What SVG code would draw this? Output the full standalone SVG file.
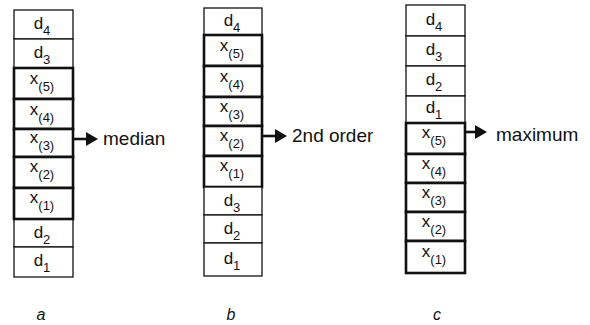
<svg xmlns="http://www.w3.org/2000/svg" width="590" height="325" viewBox="0 0 590 325">
<defs>
<style>
.thin{fill:#fff;stroke:#111;stroke-width:1.3}
.thick{fill:#fff;stroke:#111;stroke-width:2.6}
text{font-family:"Liberation Sans",Arial,sans-serif;fill:#111}
.c{font-size:17px;text-anchor:middle}
.s{font-size:13px}
.lbl{font-size:19px}
.cap{font-size:16px;font-style:italic;text-anchor:middle}
.conn{stroke:#111;stroke-width:2.6;fill:none}
</style>
<marker id="ah" viewBox="0 0 12 14" refX="1" refY="7" markerWidth="12" markerHeight="14" markerUnits="userSpaceOnUse" orient="auto">
<path d="M0,0 L12,7 L0,14 Z" fill="#111"/>
</marker>
</defs>
<rect width="590" height="325" fill="#fff"/>

<!-- Column a -->
<g id="a-d4"><rect class="thin" x="14" y="10" width="59" height="29"/><text class="c" x="42" y="29">d<tspan class="s" dy="6">4</tspan></text></g>
<g id="a-d3"><rect class="thin" x="14" y="39" width="59" height="29"/><text class="c" x="42" y="58">d<tspan class="s" dy="6">3</tspan></text></g>
<g id="a-d2"><rect class="thin" x="14" y="219" width="59" height="28"/><text class="c" x="42" y="238">d<tspan class="s" dy="6">2</tspan></text></g>
<g id="a-d1"><rect class="thin" x="14" y="247" width="59" height="30"/><text class="c" x="42" y="266">d<tspan class="s" dy="6">1</tspan></text></g>
<g id="a-x5"><rect class="thick" x="14" y="68" width="59" height="31"/><text class="c" x="42" y="84">x<tspan class="s" dy="7">(5)</tspan></text></g>
<g id="a-x4"><rect class="thick" x="14" y="99" width="59" height="30"/><text class="c" x="42" y="115">x<tspan class="s" dy="7">(4)</tspan></text></g>
<g id="a-x3"><rect class="thick" x="14" y="129" width="59" height="28"/><text class="c" x="42" y="143">x<tspan class="s" dy="7">(3)</tspan></text></g>
<g id="a-x2"><rect class="thick" x="14" y="157" width="59" height="31"/><text class="c" x="42" y="172">x<tspan class="s" dy="7">(2)</tspan></text></g>
<g id="a-x1"><rect class="thick" x="14" y="188" width="59" height="31"/><text class="c" x="42" y="203">x<tspan class="s" dy="7">(1)</tspan></text></g>
<g id="a-label"><text class="lbl" x="103" y="145">median</text></g>

<!-- Column b -->
<g id="b-d4"><rect class="thin" x="204" y="8" width="58" height="27"/><text class="c" x="232" y="26">d<tspan class="s" dy="6">4</tspan></text></g>
<g id="b-x5"><rect class="thick" x="204" y="35" width="58" height="31"/><text class="c" x="232" y="51">x<tspan class="s" dy="7">(5)</tspan></text></g>
<g id="b-x4"><rect class="thick" x="204" y="66" width="58" height="31"/><text class="c" x="232" y="82">x<tspan class="s" dy="7">(4)</tspan></text></g>
<g id="b-x3"><rect class="thick" x="204" y="97" width="58" height="29"/><text class="c" x="232" y="112">x<tspan class="s" dy="7">(3)</tspan></text></g>
<g id="b-x2"><rect class="thick" x="204" y="126" width="58" height="30"/><text class="c" x="232" y="141">x<tspan class="s" dy="7">(2)</tspan></text></g>
<g id="b-x1"><rect class="thick" x="204" y="156" width="58" height="31"/><text class="c" x="232" y="171">x<tspan class="s" dy="7">(1)</tspan></text></g>
<g id="b-d3"><rect class="thin" x="204" y="187" width="58" height="28"/><text class="c" x="232" y="206">d<tspan class="s" dy="6">3</tspan></text></g>
<g id="b-d2"><rect class="thin" x="204" y="215" width="58" height="28"/><text class="c" x="232" y="234">d<tspan class="s" dy="6">2</tspan></text></g>
<g id="b-d1"><rect class="thin" x="204" y="243" width="58" height="33"/><text class="c" x="232" y="264">d<tspan class="s" dy="6">1</tspan></text></g>
<g id="b-label"><text class="lbl" x="292" y="142">2nd order</text></g>

<!-- Column c -->
<g id="c-d4"><rect class="thin" x="406" y="5" width="59" height="31"/><text class="c" x="434" y="25">d<tspan class="s" dy="6">4</tspan></text></g>
<g id="c-d3"><rect class="thin" x="406" y="36" width="59" height="30"/><text class="c" x="434" y="55">d<tspan class="s" dy="6">3</tspan></text></g>
<g id="c-d2"><rect class="thin" x="406" y="66" width="59" height="30"/><text class="c" x="434" y="85">d<tspan class="s" dy="6">2</tspan></text></g>
<g id="c-d1"><rect class="thin" x="406" y="96" width="59" height="27"/><text class="c" x="434" y="113">d<tspan class="s" dy="6">1</tspan></text></g>
<g id="c-x5"><rect class="thick" x="406" y="123" width="59" height="31"/><text class="c" x="434" y="138">x<tspan class="s" dy="7">(5)</tspan></text></g>
<g id="c-x4"><rect class="thick" x="406" y="154" width="59" height="29"/><text class="c" x="434" y="169">x<tspan class="s" dy="7">(4)</tspan></text></g>
<g id="c-x3"><rect class="thick" x="406" y="183" width="59" height="29"/><text class="c" x="434" y="198">x<tspan class="s" dy="7">(3)</tspan></text></g>
<g id="c-x2"><rect class="thick" x="406" y="212" width="59" height="29"/><text class="c" x="434" y="227">x<tspan class="s" dy="7">(2)</tspan></text></g>
<g id="c-x1"><rect class="thick" x="406" y="241" width="59" height="32"/><text class="c" x="434" y="257">x<tspan class="s" dy="7">(1)</tspan></text></g>
<g id="c-label"><text class="lbl" x="496" y="140.5">maximum</text></g>

<!-- Connectors -->
<g id="connectors">
<line class="conn" x1="73" y1="139" x2="87" y2="139" marker-end="url(#ah)"/>
<line class="conn" x1="262" y1="136" x2="276" y2="136" marker-end="url(#ah)"/>
<line class="conn" x1="465" y1="132" x2="476" y2="132" marker-end="url(#ah)"/>
</g>

<!-- Captions -->
<g id="captions">
<text class="cap" x="41" y="320">a</text>
<text class="cap" x="231" y="320">b</text>
<text class="cap" x="437" y="320">c</text>
</g>
</svg>
